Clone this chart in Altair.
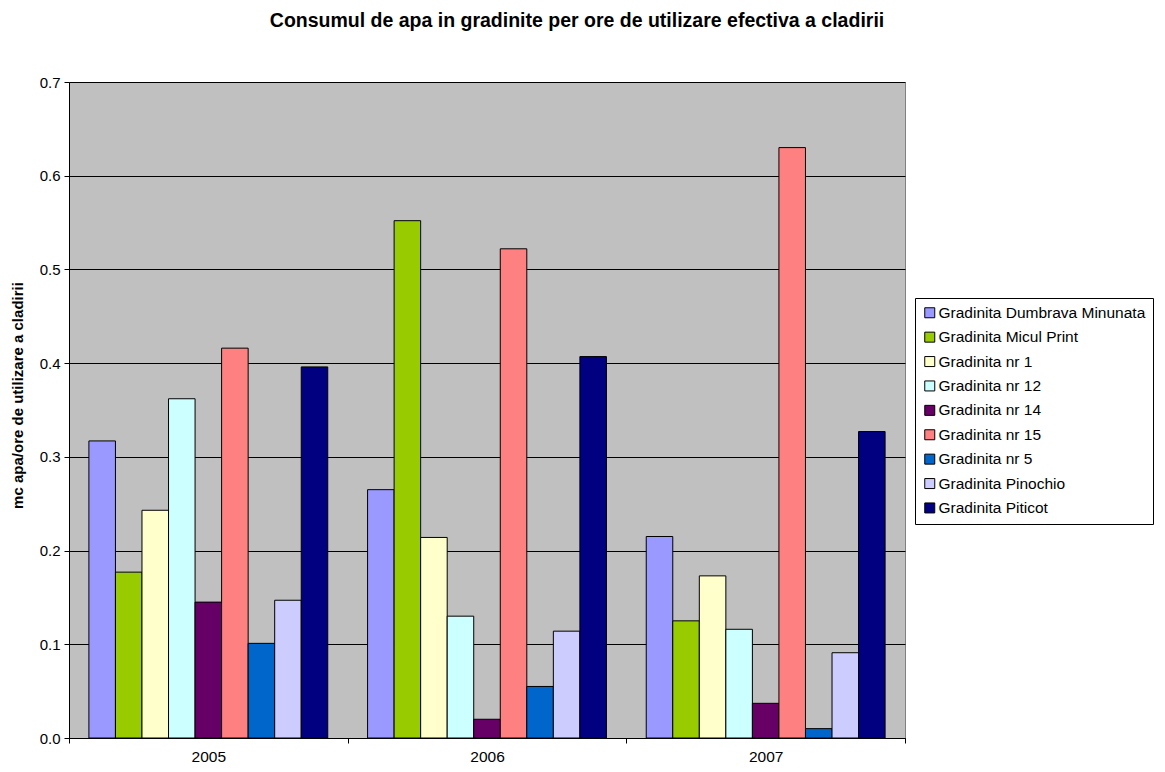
import altair as alt
import pandas as pd

years = ["2005", "2006", "2007"]
series = [
    "Gradinita Dumbrava Minunata",
    "Gradinita Micul Print",
    "Gradinita nr 1",
    "Gradinita nr 12",
    "Gradinita nr 14",
    "Gradinita nr 15",
    "Gradinita nr 5",
    "Gradinita Pinochio",
    "Gradinita Piticot",
]
dumbrava = [0.317, 0.265, 0.215]
micul = [0.177, 0.552, 0.125]
nr1 = [0.243, 0.214, 0.173]
nr12 = [0.362, 0.130, 0.116]
nr14 = [0.145, 0.020, 0.037]
nr15 = [0.416, 0.522, 0.630]
nr5 = [0.101, 0.055, 0.010]
pinochio = [0.147, 0.114, 0.091]
piticot = [0.396, 0.407, 0.327]
colors = ["#9999FF", "#99CC00", "#FFFFCC", "#CCFFFF", "#660066",
          "#FF8080", "#0066CC", "#CCCCFF", "#000080"]
y_ticks = [0.0, 0.1, 0.2, 0.3, 0.4, 0.5, 0.6, 0.7]

all_vals = [dumbrava, micul, nr1, nr12, nr14, nr15, nr5, pinochio, piticot]
rows = []
for s, vals in zip(series, all_vals):
    for yr, v in zip(years, vals):
        rows.append({"An": yr, "Gradinita": s, "Valoare": v})
df = pd.DataFrame(rows)

FONT = "Arial, Liberation Sans"

chart = alt.Chart(df).mark_bar(stroke="black", strokeWidth=1).encode(
    x=alt.X("An:N", sort=years,
            scale=alt.Scale(paddingInner=0, paddingOuter=0),
            axis=alt.Axis(title=None, labelAngle=0, tickBand="extent",
                          labelFontSize=15.5, labelFont=FONT, labelColor="black",
                          tickColor="black", tickSize=5, domainColor="black",
                          labelPadding=6, grid=False)),
    xOffset=alt.XOffset("Gradinita:N", sort=series,
                        scale=alt.Scale(paddingInner=0, paddingOuter=0.75)),
    y=alt.Y("Valoare:Q",
            scale=alt.Scale(domain=[0, 0.7], nice=False),
            axis=alt.Axis(title="mc apa/ore de utilizare a cladirii",
                          values=y_ticks, format=".1f",
                          labelFontSize=15, labelFont=FONT, labelColor="black",
                          titleFontSize=15, titleFont=FONT, titleFontWeight="bold",
                          titleColor="black", titleX=-52, titleY=313,
                          titleBaseline="middle",
                          tickColor="black", tickSize=5, domainColor="black",
                          gridColor="black", gridWidth=1, labelPadding=4)),
    color=alt.Color("Gradinita:N",
                    scale=alt.Scale(domain=series, range=colors),
                    legend=alt.Legend(title=None, orient="none",
                                      legendX=846, legendY=216,
                                      symbolType="square", symbolSize=100,
                                      symbolStrokeColor="black", symbolStrokeWidth=1,
                                      symbolOpacity=1,
                                      labelFontSize=15.5, labelFont=FONT, labelColor="black",
                                      labelOffset=1, rowPadding=7.4,
                                      padding=7, fillColor="white",
                                      strokeColor="black", labelLimit=400)),
).properties(
    width=836,
    height=656,
    title=alt.TitleParams("Consumul de apa in gradinite per ore de utilizare efectiva a cladirii",
                          fontSize=19.5, font=FONT, fontWeight="bold", color="black",
                          anchor="middle", dx=90, offset=44),
    autosize=alt.AutoSizeParams(type="none"),
    padding={"left": 61, "top": 74, "right": 251, "bottom": 25},
    background="white",
).configure_view(
    fill="#C0C0C0", stroke="#808080", strokeWidth=1
)

chart.save("out.html", embed_options={"renderer": "svg", "actions": False})
